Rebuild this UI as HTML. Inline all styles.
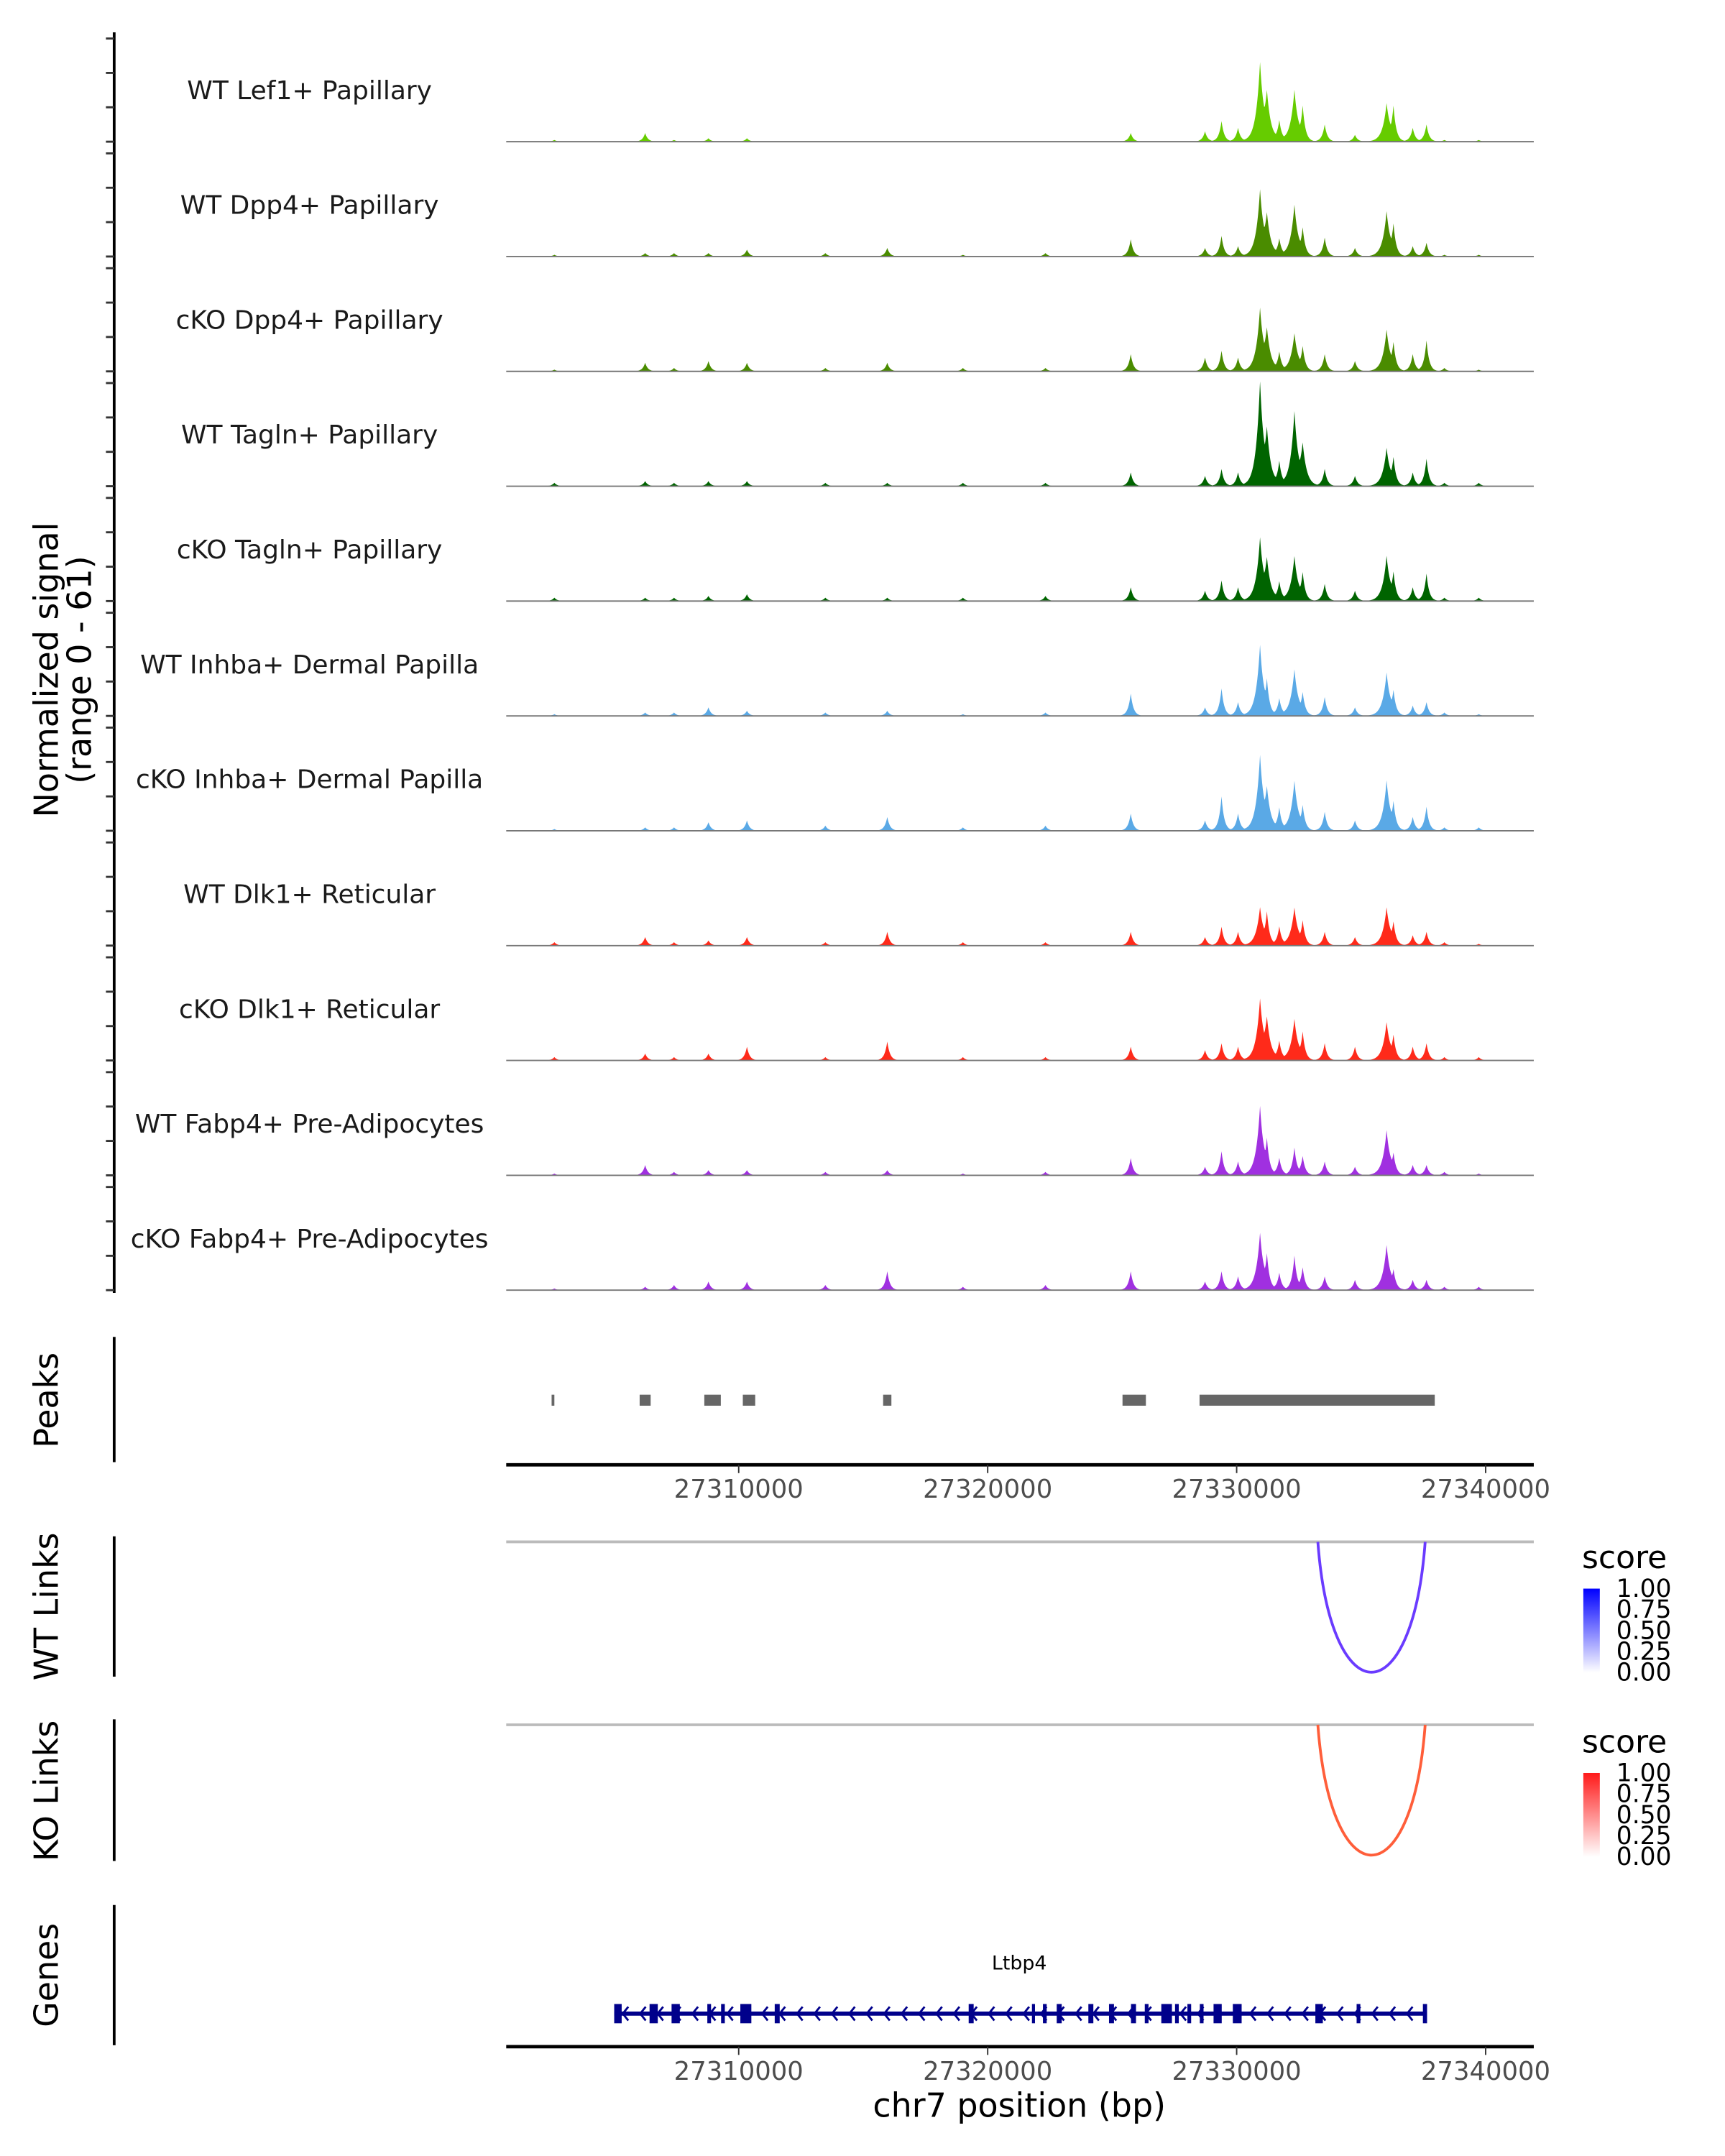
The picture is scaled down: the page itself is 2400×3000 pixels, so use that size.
<!DOCTYPE html>
<html><head><meta charset="utf-8"><style>
html,body{margin:0;padding:0;background:#fff}
svg{display:block}
text{font-family:"DejaVu Sans","Liberation Sans",sans-serif}
</style></head><body>
<svg id="chart" xmlns="http://www.w3.org/2000/svg" width="2400" height="3000" viewBox="0 0 1254 1567.5">
<rect width="1254" height="1567.5" fill="#fff"/>
<g id="tracks"></g>
<g id="peaks"></g>
<g id="links"></g>
<g id="genes"></g>
<text transform="translate(42,487) rotate(-90)" text-anchor="middle" font-size="24" fill="#000">Normalized signal</text>
<text transform="translate(66,487) rotate(-90)" text-anchor="middle" font-size="24" fill="#000">(range 0 - 61)</text>
<text transform="translate(42,1018) rotate(-90)" text-anchor="middle" font-size="24">Peaks</text>
<text transform="translate(42,1168) rotate(-90)" text-anchor="middle" font-size="24">WT Links</text>
<text transform="translate(42,1302) rotate(-90)" text-anchor="middle" font-size="24">KO Links</text>
<text transform="translate(42,1436) rotate(-90)" text-anchor="middle" font-size="24">Genes</text>
<text x="741" y="1539" text-anchor="middle" font-size="24">chr7 position (bp)</text>
</svg>
<script>
const trackNames=["WT Lef1+ Papillary","WT Dpp4+ Papillary","cKO Dpp4+ Papillary","WT Tagln+ Papillary","cKO Tagln+ Papillary","WT Inhba+ Dermal Papilla","cKO Inhba+ Dermal Papilla","WT Dlk1+ Reticular","cKO Dlk1+ Reticular","WT Fabp4+ Pre-Adipocytes","cKO Fabp4+ Pre-Adipocytes"];
const trackColors=["#66cc00","#4a8c00","#4a8c00","#006400","#006400","#5aa9e6","#5aa9e6","#ff2a1a","#ff2a1a","#a030e0","#a030e0"];
const peakPositions=[27302597,27306243,27307403,27308785,27310331,27313481,27315967,27319006,27322320,27325746,27328729,27329392,27330055,27330939,27331215,27331713,27332320,27332652,27333536,27334751,27336022,27336298,27337072,27337624,27338343,27339724];
const sigLef1=[1,5,1,2,2,0,0,0,0,5,6,12,8,45,28,12,30,20,10,4,22,20,8,10,1,1];
const sigDpp4WT=[1,2,2,2,4,2,5,1,2,10,5,12,6,38,24,10,30,16,11,5,26,18,6,8,1,1];
const sigDpp4KO=[1,5,2,6,5,2,5,2,2,10,8,12,8,36,24,11,22,14,10,6,24,16,10,18,2,1];
const sigTaglnWT=[2,3,2,3,3,2,2,2,2,8,6,10,8,60,32,14,43,24,10,6,22,16,8,16,2,2];
const sigTaglnKO=[2,2,2,3,4,2,2,2,3,8,6,12,8,36,24,11,26,16,10,6,26,16,8,16,2,2];
const sigInhbaWT=[1,2,2,5,3,2,3,1,2,13,5,16,8,41,20,10,27,13,11,5,25,14,6,8,2,1];
const sigInhbaKO=[1,2,2,5,6,3,8,2,3,10,6,20,10,43,24,13,29,14,11,6,29,16,8,14,2,2];
const sigDlk1WT=[2,5,2,3,5,2,8,2,2,8,5,11,8,22,19,11,22,14,8,5,22,13,6,8,2,1];
const sigDlk1KO=[2,4,2,4,8,2,11,2,2,8,6,10,8,35,24,11,24,16,10,8,22,14,8,10,2,2];
const sigFabp4WT=[1,6,2,3,3,2,3,1,2,10,5,14,8,40,20,10,16,11,8,5,26,12,6,6,2,1];
const sigFabp4KO=[1,2,3,5,5,3,11,2,3,11,5,11,8,33,20,10,20,13,8,6,26,11,6,6,2,2];
const signals=[sigLef1,sigDpp4WT,sigDpp4KO,sigTaglnWT,sigTaglnKO,sigInhbaWT,sigInhbaKO,sigDlk1WT,sigDlk1KO,sigFabp4WT,sigFabp4KO];
const peakStarts=[27302486,27306022,27308619,27310166,27315801,27325415,27328509];
const peakEnds=[27302597,27306464,27309282,27310663,27316133,27326354,27337956];
const xTicks=[27310000,27320000,27330000,27340000];
const xTickLabels=["27310000","27320000","27330000","27340000"];
const linkStarts=[27333261];
const linkEnds=[27337571];
const linkScoresWT=[0.75];
const linkScoresKO=[0.7];
const exonStarts=[27305000,27306420,27307304,27308740,27309293,27310066,27311447,27319237,27321778,27322220,27322773,27324044,27324873,27325757,27326310,27326973,27327525,27328022,27328520,27329072,27329846,27333161,27334818,27337480];
const exonEnds=[27305300,27306751,27307635,27308890,27309443,27310508,27311647,27319437,27321900,27322370,27322973,27324244,27325073,27325957,27326460,27327400,27327675,27328172,27328670,27329400,27330200,27333461,27334968,27337647];
const geneStart=27305000, geneEnd=27337647;

const NS="http://www.w3.org/2000/svg";
function mk(tag,attrs,parent){const e=document.createElementNS(NS,tag);for(const k in attrs)e.setAttribute(k,attrs[k]);parent.appendChild(e);return e;}
const X0=368,X1=1115;
function xs(bp){return 356+(bp-27300000)*0.0181;}
const YMAX=60, TRACK_PX=75;
function ys(v,base){return base-v*TRACK_PX/YMAX;}

const gT=document.getElementById('tracks');
const axis=mk('line',{x1:83,y1:23.5,x2:83,y2:940,stroke:'#000','stroke-width':2},gT);


for(let t=0;t<trackNames.length;t++){
  const base=103+t*83.5;
  const g=mk('g',{},gT);
  
  
  for(let k=0;k<4;k++){
    const yy=ys(k*20,base);
    const tk=mk('line',{x1:77,x2:83,y1:yy,y2:yy,stroke:'#333','stroke-width':1.5},g);
    
    
  }
  const lbl=mk('text',{x:225,y:base-31,'text-anchor':'middle','font-size':18.8,fill:'#1a1a1a'},g);
  lbl.textContent=trackNames[t];
  
  
  const sig=signals[t];
  let d='M'+X0+','+base;
  for(let x=X0;x<=X1;x+=0.5){
    let vmax=0, vsum=0;
    for(let i=0;i<peakPositions.length;i++){
      const dx=Math.abs(x-xs(peakPositions[i]));
      const w=sig[i]>20?3:2;
      const b=sig[i]*Math.exp(-dx/w);
      vmax=Math.max(vmax,b);
      vsum+=b;
    }
    const v=vmax+0.25*(vsum-vmax);
    d+=' L'+x+','+ys(Math.min(v,61),base).toFixed(2);
  }
  d+=' L'+X1+','+base+' Z';
  const area=mk('path',{d:d,fill:trackColors[t]},g);
  
  
  const bl=mk('line',{x1:X0,x2:X1,y1:base,y2:base,stroke:'#777','stroke-width':1},g);
  
  
}

const gP=document.getElementById('peaks');
const pax=mk('line',{x1:83,y1:972,x2:83,y2:1063,stroke:'#000','stroke-width':2},gP);


for(let i=0;i<peakStarts.length;i++){
  const r=mk('rect',{x:xs(peakStarts[i]),y:1014,width:Math.max(1,xs(peakEnds[i])-xs(peakStarts[i])),height:8,fill:'#666'},gP);
  
  
}
function xAxis(y,parent){
  const l=mk('line',{x1:X0,x2:X1,y1:y,y2:y,stroke:'#000','stroke-width':2.5},parent);
  
  
  for(let i=0;i<xTicks.length;i++){
    const x=xs(xTicks[i]);
    const t=mk('line',{x1:x,x2:x,y1:y,y2:y+6,stroke:'#333','stroke-width':1},parent);
    
    
    const tx=mk('text',{x:x,y:y+24,'text-anchor':'middle','font-size':18.5,fill:'#4d4d4d'},parent);
    tx.textContent=xTickLabels[i];
    
    
  }
}
xAxis(1065,gP);

const gL=document.getElementById('links');
function linkPanel(top,yAxisTop,yAxisBot,color,scores,c0,c1,legendY){
  const ax=mk('line',{x1:83,y1:yAxisTop,x2:83,y2:yAxisBot,stroke:'#000','stroke-width':2},gL);
  
  
  const hl=mk('line',{x1:X0,x2:X1,y1:top,y2:top,stroke:'#bbb','stroke-width':2},gL);
  
  
  for(let i=0;i<linkStarts.length;i++){
    const a=xs(linkStarts[i]),b=xs(linkEnds[i]);
    const depth=95;
    const p=mk('path',{d:`M${a},${top} C${a+(b-a)*0.12},${top+depth*1.33} ${b-(b-a)*0.12},${top+depth*1.33} ${b},${top}`,fill:'none',stroke:color,'stroke-width':2},gL);
    
    
  }
  const t=mk('text',{x:1150,y:legendY,'font-size':23},gL);
  t.textContent='score';
  
  
  const gid='grad'+top;
  const defs=mk('defs',{},gL);
  const lg=mk('linearGradient',{id:gid,x1:0,y1:1,x2:0,y2:0},defs);
  mk('stop',{offset:0,'stop-color':c0},lg);
  mk('stop',{offset:1,'stop-color':c1},lg);
  const bar=mk('rect',{x:1151,y:legendY+15,width:12,height:61,fill:`url(#${gid})`},gL);
  
  
  const labs=['1.00','0.75','0.50','0.25','0.00'];
  for(let k=0;k<5;k++){
    const yy=legendY+15+k*15.25;
    const tx=mk('text',{x:1175,y:yy+6,'font-size':18},gL);
    tx.textContent=labs[k];
    
    
  }
}
linkPanel(1121,1117,1219,'#6a3bff',linkScoresWT,'#ffffff','#0000ff',1140);
linkPanel(1254,1250,1353,'#ff5e3a',linkScoresKO,'#ffffff','#ff1a1a',1274);

const gG=document.getElementById('genes');
const gax=mk('line',{x1:83,y1:1385,x2:83,y2:1487,stroke:'#000','stroke-width':2},gG);


const gl=mk('line',{x1:xs(geneStart),x2:xs(geneEnd),y1:1464,y2:1464,stroke:'#00008b','stroke-width':3},gG);


for(let bp=geneStart+400;bp<geneEnd-300;bp+=700){
  const x=xs(bp);
  const c=mk('path',{d:`M${x+3},${1459} L${x-1},${1464} L${x+3},${1469}`,fill:'none',stroke:'#00008b','stroke-width':1.5},gG);
  
  
}
for(let i=0;i<exonStarts.length;i++){
  const r=mk('rect',{x:xs(exonStarts[i]),y:1457,width:Math.max(2,xs(exonEnds[i])-xs(exonStarts[i])),height:14,fill:'#00008b'},gG);
  
  
}
const gn=mk('text',{x:741,y:1432,'text-anchor':'middle','font-size':14},gG);
gn.textContent='Ltbp4';


xAxis(1488,gG);
</script>
</body></html>
